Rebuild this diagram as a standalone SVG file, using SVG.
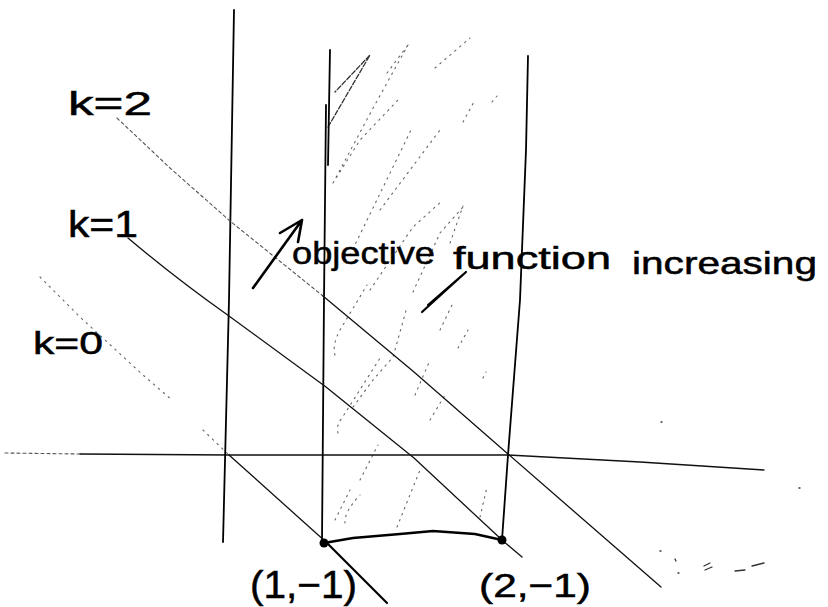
<svg xmlns="http://www.w3.org/2000/svg" width="828" height="607" viewBox="0 0 828 607">
<style>
.ink{fill:none;stroke:#000;stroke-width:1.8;stroke-linecap:round;stroke-linejoin:round}
.thin{fill:none;stroke:#111;stroke-width:1.3;stroke-linecap:round;stroke-linejoin:round}
.faint{fill:none;stroke:#555;stroke-width:1.1;stroke-dasharray:3 3;stroke-linecap:round}
.hatch{fill:none;stroke:#666;stroke-width:1.1;stroke-dasharray:1.5 5;stroke-linecap:round}
.hatchd{fill:none;stroke:#333;stroke-width:1.3;stroke-dasharray:5 2;stroke-linecap:round}
.lbl{font-family:"Liberation Sans",Arial,sans-serif;fill:#000;stroke:#000;stroke-width:0.5}
</style>
<rect width="828" height="607" fill="#fff"/>

<g id="hatching">
  <path class="hatchd" d="M328,127 L370,55 L335,92"/>
  <path class="hatch" d="M333,183 L372,110 L408,45 M333,183 L360,140 L398,100"/>
  <path class="hatch" d="M350,255 L412,128"/>
  <path class="hatch" d="M380,210 L440,130"/>
  <path class="hatch" d="M435,68 L470,38"/>
  <path class="hatch" d="M387,73 L408,45"/>
  <path class="hatch" d="M370,290 L413,227 L443,200"/>
  <path class="hatch" d="M413,292 L440,233 L463,207"/>
  <path class="hatch" d="M335,355 Q332,345 340,330 L367,285"/>
  <path class="hatch" d="M338,433 Q336,425 342,418 L382,355"/>
  <path class="hatch" d="M353,407 L373,380 L393,357 L407,307"/>
  <path class="hatch" d="M397,527 L420,470"/>
  <path class="hatch" d="M345,523 Q344,512 360,495"/>
  <path class="hatch" d="M480,517 L487,487"/>
  <path class="hatch" d="M463,122 L475,100 M492,102 L497,96 M458,348 L468,330 M483,378 L486,372"/>
  <path class="hatch" d="M335,520 L350,490 M360,480 L378,445 M430,420 L445,395 M415,395 L430,360 M440,330 L452,305"/>
  <path class="hatch" d="M450,243 L463,206"/>
  <path d="M422,312 L466,272 L428,305" fill="none" stroke="#000" stroke-width="2.2" stroke-linecap="round" stroke-linejoin="round"/>
</g>

<g id="axes">
  <path class="faint" d="M5,453 L80,454"/>
  <path class="thin" d="M80,454 L230,455 L508,455 L640,462 L764,470"/>
</g>

<g id="constraints">
  <path class="ink" d="M234,10 L229,300 L223,542"/>
  <path class="ink" d="M330,50 L328,165"/>
  <path class="ink" d="M326,105 L324,300 L322,540"/>
  <path class="ink" d="M528,56 L526,150 L520,300 L508,455 L502,540"/>
  <path d="M324,543 L353,538 L400,534 L433,531 L475,534 L502,540" fill="none" stroke="#000" stroke-width="2.6" stroke-linecap="round"/>
</g>

<g id="level-lines">
  <!-- k=2 -->
  <path class="faint" d="M117,118 L170,168 L230,221 L323,296"/>
  <path class="thin" d="M323,296 L414,372 L508,454 L661,587"/>
  <!-- k=1 -->
  <path class="thin" d="M128,238 C160,265 195,292 229,316 L326,387 L414,458 L502,540 L522,557"/>
  <!-- k=0 -->
  <path class="hatch" d="M40,277 L80,317 L143,375 L172,400 M203,430 L229,455"/>
  <path class="thin" d="M229,455 L326,542"/>
  <path d="M326,542 L387,603" fill="none" stroke="#000" stroke-width="2.2" stroke-linecap="round"/>
</g>

<g id="points">
  <circle cx="324" cy="543" r="4.5" fill="#000"/>
  <circle cx="502" cy="540" r="4.5" fill="#000"/>
</g>

<g id="arrow">
  <path d="M253,288 L302,220 M280,233 L302,220 L298,242" fill="none" stroke="#000" stroke-width="2.6" stroke-linecap="round" stroke-linejoin="round"/>
</g>

<g id="marks">
  <path d="M660,551 l1,0 M675,559 l1,2 M678,573 l1,0 M704,566 l6,-3 M705,570 l7,-3 M735,571 l10,-1 M752,566 l12,-3" fill="none" stroke="#333" stroke-width="1.3" stroke-linecap="round"/>
  <path d="M661,422 l1,0 M799,488 l1,0" fill="none" stroke="#333" stroke-width="1.3" stroke-linecap="round"/>
</g>

<g id="labels">
  <text class="lbl" x="68" y="115" font-size="34" textLength="84" lengthAdjust="spacingAndGlyphs">k=2</text>
  <text class="lbl" x="68" y="237" font-size="36" textLength="70" lengthAdjust="spacingAndGlyphs">k=1</text>
  <text class="lbl" x="33" y="354" font-size="32" textLength="70" lengthAdjust="spacingAndGlyphs">k=0</text>
  <text class="lbl" font-size="32"><tspan x="292" y="264" textLength="143" lengthAdjust="spacingAndGlyphs">objective</tspan><tspan x="453" y="269" textLength="158" lengthAdjust="spacingAndGlyphs">function</tspan><tspan x="632" y="274" textLength="185" lengthAdjust="spacingAndGlyphs">increasing</tspan></text>
  <text class="lbl" x="250" y="598" font-size="38" textLength="107" lengthAdjust="spacingAndGlyphs">(1,−1)</text>
  <text class="lbl" x="479" y="597" font-size="34" textLength="112" lengthAdjust="spacingAndGlyphs">(2,−1)</text>
</g>
</svg>
